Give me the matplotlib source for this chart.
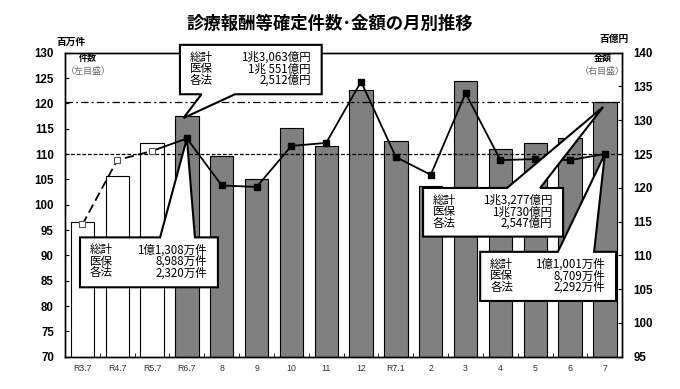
import numpy as np
import matplotlib.pyplot as plt
from matplotlib.patches import Polygon

plt.rcParams['font.family'] = ['Noto Sans CJK JP', 'DejaVu Sans']

# data
months = ["R3.7", "R4.7", "R5.7", "R6.7", "8", "9", "10", "11", "12",
          "R7.1", "2", "3", "4", "5", "6", "7"]
amount = [115.0, 121.8, 126.7, 130.63, 124.7, 121.3, 128.9, 126.2, 134.5,
          127.0, 120.2, 135.8, 125.7, 126.6, 127.3, 132.77]   # 百億円 (bars, right)
count = [96.1, 108.8, 110.6, 113.08, 103.8, 103.5, 111.6, 112.2, 124.3,
         109.4, 105.9, 122.0, 108.8, 109.0, 108.8, 110.01]    # 百万件 (line, left)
n_past = 3   # R3.7, R4.7, R5.7 drawn as white bars / open markers

box_labels = ["総計", "医保", "各法"]
amt_prev_txt = ["1兆3,063億円", "1兆 551億円", "2,512億円"]
cnt_prev_txt = ["1億1,308万件", "8,988万件", "2,320万件"]
amt_now_txt = ["1兆3,277億円", "1兆730億円", "2,547億円"]
cnt_now_txt = ["1億1,001万件", "8,709万件", "2,292万件"]

x = np.arange(len(months))
W, H = 680, 389
fig = plt.figure(figsize=(W / 100, H / 100), dpi=100)
fig.subplots_adjust(left=65 / W, right=622.3 / W, bottom=1 - 356.7 / H, top=1 - 52.7 / H)
ax1 = fig.add_subplot(111)
ax2 = ax1.twinx()
ax1.set_zorder(ax2.get_zorder() + 1)
ax1.patch.set_visible(False)

# bars (amount, right axis)
colors = ["white"] * n_past + ["#808080"] * (len(x) - n_past)
ax2.bar(x, amount, width=0.67, color=colors, edgecolor="black", linewidth=0.8, zorder=2)
ax2.axhline(amount[-1], color="black", lw=0.9, ls=(0, (6, 2.5, 1.5, 2.5)), zorder=3)
ax2.set_ylim(95, 140)
ax2.set_yticks(np.arange(95, 141, 5))

# line (count, left axis)
ax1.axhline(count[-1], color="black", lw=0.9, ls=(0, (3, 1.5)), zorder=1)
ax1.plot(x[:n_past], count[:n_past], color="black", lw=1.3, ls=(0, (5, 2.5)), zorder=4)
ax1.plot(x[n_past - 1:], count[n_past - 1:], color="black", lw=1.3, zorder=4)
ax1.plot(x[:n_past], count[:n_past], ls="none", marker="s", ms=4.5, mfc="white",
         mec="#555555", mew=0.8, zorder=5)
ax1.plot(x[n_past:], count[n_past:], ls="none", marker="s", ms=4.5, mfc="black",
         mec="black", zorder=5)
ax1.set_ylim(70, 130)
ax1.set_yticks(np.arange(70, 131, 5))
ax1.set_xlim(-0.5, len(x) - 0.5)
ax1.set_xticks(x)
ax1.set_xticklabels(months)
ax1.set_xticks(x[:-1] + 0.5, minor=True)

for ax in (ax1, ax2):
    for sp in ax.spines.values():
        sp.set_linewidth(1.0)
ax1.tick_params(axis="y", direction="in", length=3, pad=8, labelsize=8.3)
ax2.tick_params(axis="y", direction="in", length=3, pad=8, labelsize=8.3)
ax1.tick_params(axis="x", which="major", length=0, pad=5, labelsize=6.3, labelcolor="#333333")
ax1.tick_params(axis="x", which="minor", direction="in", length=3)
for lab in ax1.get_yticklabels() + ax2.get_yticklabels():
    lab.set_family("Liberation Sans")
    lab.set_fontweight("bold")
for lab in ax1.get_xticklabels():
    lab.set_family("Liberation Sans")


def amt2cnt(v):
    return 70 + (v - 95) * 60 / 45


def callout(x0, x1, ybot, ytop, wb, apex, side, labels, values):
    if side == "bottom":
        pts = [(x0, ytop), (x1, ytop), (x1, ybot), (wb[1], ybot), apex,
               (wb[0], ybot), (x0, ybot)]
    else:
        pts = [(x0, ybot), (x1, ybot), (x1, ytop), (wb[1], ytop), apex,
               (wb[0], ytop), (x0, ytop)]
    ax1.add_patch(Polygon(pts, closed=True, facecolor="white", edgecolor="black",
                          lw=1.5, clip_on=False, zorder=10, joinstyle="miter"))
    px_x = 557.3 / len(months)
    px_y = 304 / 60
    for k, (lb, vv) in enumerate(zip(labels, values)):
        yy = ytop - (12.5 + 11.5 * k) / px_y
        ax1.text(x0 + 10 / px_x, yy, lb, fontsize=8.3, va="center", ha="left",
                 zorder=11, clip_on=False)
        ax1.text(x1 - 11 / px_x, yy, vv, fontsize=8.3, va="center", ha="right",
                 zorder=11, clip_on=False)


callout(2.80, 6.87, 121.8, 131.55, (3.42, 4.38), (2.9, amt2cnt(amount[3] - 0.3)),
        "bottom", box_labels, amt_prev_txt)
callout(-0.07, 3.89, 83.7, 93.55, (2.23, 3.23), (3, count[3]),
        "top", box_labels, cnt_prev_txt)
callout(9.78, 13.80, 93.7, 103.3, (12.19, 13.14), (14.95, amt2cnt(amount[-1] - 0.8)),
        "top", box_labels, amt_now_txt)
callout(11.42, 15.32, 81.0, 90.7, (13.65, 14.69), (15, count[-1]),
        "top", box_labels, cnt_now_txt)

# titles and axis captions
fig.text(330 / W, 1 - 24 / H, "診療報酬等確定件数･金額の月別推移", fontsize=12.5,
         fontweight="bold", ha="center", va="center")
fig.text(71 / W, 1 - 42 / H, "百万件", fontsize=7, fontweight="bold", ha="center", va="center")
fig.text(614 / W, 1 - 39 / H, "百億円", fontsize=7, fontweight="bold", ha="center", va="center")
fig.text(88 / W, 1 - 58 / H, "件数", fontsize=6.5, fontweight="bold", ha="center", va="center")
fig.text(88 / W, 1 - 71 / H, "（左目盛）", fontsize=6.5, color="#666666", ha="center", va="center")
fig.text(603 / W, 1 - 58 / H, "金額", fontsize=6.5, fontweight="bold", ha="center", va="center")
fig.text(602 / W, 1 - 71 / H, "（右目盛）", fontsize=6.5, color="#666666", ha="center", va="center")

fig.savefig("out.png", dpi=100)
